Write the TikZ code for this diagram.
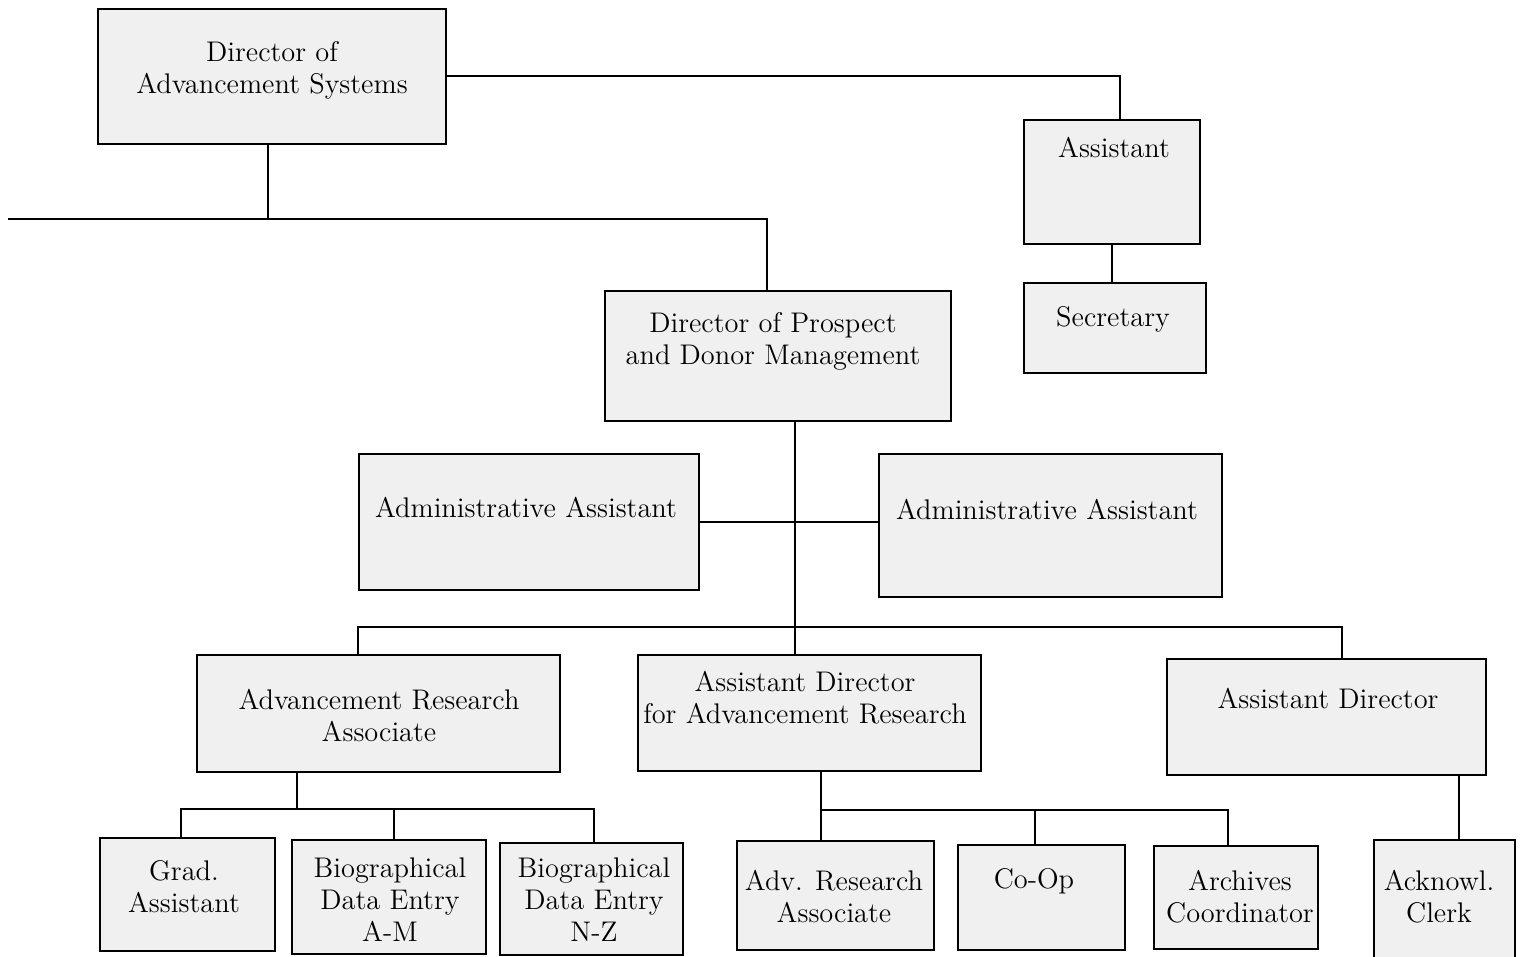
\documentclass[tikz,border=0pt]{standalone}
\usepackage{fontspec}
\begin{document}
\tikzset{
 orgbox/.style={draw=black, line width=1.2pt, fill=black!6, inner sep=0pt},
 orgtxt/.style={font=\fontsize{14.2}{16}\selectfont, align=center, inner sep=0pt},
 conn/.style={line width=1pt}
}
\newcommand\mkbox[5]{\node[orgbox, minimum width={(#4-#2)*0.5pt}, minimum height={(#5-#3)*0.5pt}] (#1) at ({(#2+#4)/2},{(#3+#5)/2}) {};}
\begin{tikzpicture}[x=0.5pt,y=-0.5pt]
\useasboundingbox[fill=white] (0,0) rectangle (1524,957);
% boxes
\mkbox{dir}{98}{9}{446}{144}
\mkbox{asst}{1024}{120}{1200}{244}
\mkbox{sec}{1024}{283}{1206}{373}
\mkbox{dp}{605}{291}{951}{421}
\mkbox{aaL}{359}{454}{699}{590}
\mkbox{aaR}{879}{454}{1222}{597}
\mkbox{ara}{197}{655}{560}{772}
\mkbox{ad}{638}{655}{981}{771}
\mkbox{adr}{1167}{659}{1486}{775}
\mkbox{grad}{100}{838}{275}{951}
\mkbox{bioA}{292}{840}{486}{954}
\mkbox{bioB}{500}{843}{683}{955}
\mkbox{adv}{737}{841}{934}{950}
\mkbox{coop}{958}{845}{1125}{950}
\mkbox{arch}{1154}{846}{1318}{949}
\mkbox{ack}{1374}{840}{1515}{964}
% texts
\node[orgtxt] (dirT) at (272,70) {Director of\\Advancement Systems};
\node[orgtxt] (asstT) at (1114,148) {Assistant};
\node[orgtxt] (secT) at (1113,319) {Secretary};
\node[orgtxt] (dpT) at (773,341) {Director of Prospect\\and Donor Management};
\node[orgtxt] (aaLT) at (526,507) {Administrative Assistant};
\node[orgtxt] (aaRT) at (1047,509) {Administrative Assistant};
\node[orgtxt] (araT) at (379,715) {Advancement Research\\Associate};
\node[orgtxt] (adT) at (805,698) {Assistant Director\\for Advancement Research};
\node[orgtxt] (adrT) at (1328,698) {Assistant Director};
\node[orgtxt] (gradT) at (184,887) {Grad.\\Assistant};
\node[orgtxt] (bioAT) at (390,900) {Biographical\\Data Entry\\A-M};
\node[orgtxt] (bioBT) at (594,900) {Biographical\\Data Entry\\N-Z};
\node[orgtxt] (advT) at (834,896) {Adv. Research\\Associate};
\node[orgtxt] (coopT) at (1034,881) {Co-Op};
\node[orgtxt] (archT) at (1240,897) {Archives\\Coordinator};
\node[orgtxt] (ackT) at (1439,897) {Acknowl.\\Clerk};
% connectors
\coordinate (busL) at (8,219);
\coordinate (spine) at (795,627);
\coordinate (busA) at (297,809);
\coordinate (busB) at (821,810);
\draw[conn] (dir.east) -| ([xshift=4pt]asst.north);
\draw[conn] ([xshift=-2pt]dir.south) |- (busL);
\draw[conn] (busL) -| ([xshift=-5.5pt]dp.north);
\draw[conn] (asst.south) -- (asst.south |- sec.north);
\draw[conn] ([xshift=8.5pt]dp.south) -- (ad.north -| spine);
\draw[conn] (aaL.east) -- (aaL.east -| aaR.west);
\draw[conn] ([xshift=-10.25pt]ara.north) |- (spine) -| ([xshift=7.75pt]adr.north);
\draw[conn] ([xshift=-40.75pt]ara.south) -- (busA);
\draw[conn] (busA) -| ([xshift=-3.25pt]grad.north);
\draw[conn] (busA) -| ([xshift=1.25pt]bioB.north);
\draw[conn] ([xshift=2.5pt]bioA.north) |- (busA);
\draw[conn] ([xshift=5.75pt]ad.south) -- (busB);
\draw[conn] (busB) -| ([xshift=-7.25pt]adv.north);
\draw[conn] (busB) -| ([xshift=-4pt]arch.north);
\draw[conn] ([xshift=-3.25pt]coop.north) |- (busB);
\draw[conn] ([xshift=66.25pt]adr.south) -- ([xshift=66.25pt]adr.south |- ack.north);
\end{tikzpicture}
\end{document}
